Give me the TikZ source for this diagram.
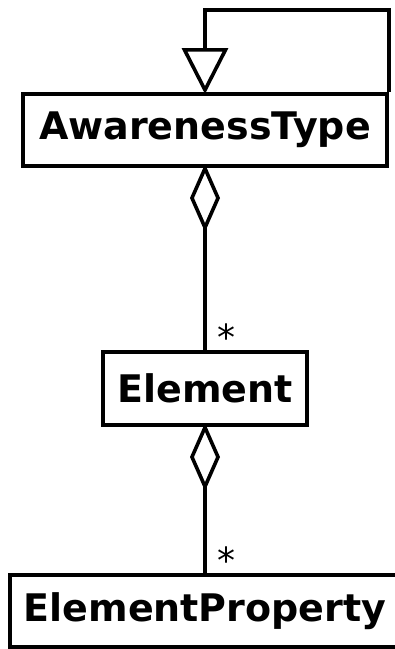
\documentclass[tikz,border=0pt]{standalone}
\usepackage{fontspec}
\setmainfont{DejaVu Sans}
\usetikzlibrary{arrows.meta}
\begin{document}
\begin{tikzpicture}[x=1pt,y=-1pt,
  cls/.style={draw, line width=4pt, inner sep=0pt, font=\fontsize{38}{40}\selectfont\bfseries, anchor=center},
  conn/.style={line width=3.6pt, line join=miter},
  mult/.style={font=\fontsize{36}{40}\selectfont, inner sep=0pt, anchor=base west, xshift=11pt}]
\useasboundingbox[fill=white] (0,0) rectangle (395,649);
\node[cls, minimum width=364pt, minimum height=72pt] (at) at (205,130) {AwarenessType};
\node[cls, minimum width=204pt, minimum height=73pt] (el) at (205,388.5) {Element};
\node[cls, minimum width=390pt, minimum height=72pt] (ep) at (205,611) {ElementProperty};
\draw[conn, shorten >=-2pt, -{Triangle[open, length=46pt, width=46pt]}] (at.north east) -- ++(0,-82) -| (at.north);
\draw[conn, shorten <=-4pt, {Diamond[open, length=68pt, width=30pt]}-] (at.south) -- node[mult, pos=1]{*} (el.north);
\draw[conn, shorten <=-4pt, {Diamond[open, length=68pt, width=30pt]}-] (el.south) -- node[mult, pos=1]{*} (ep.north);
\end{tikzpicture}
\end{document}
